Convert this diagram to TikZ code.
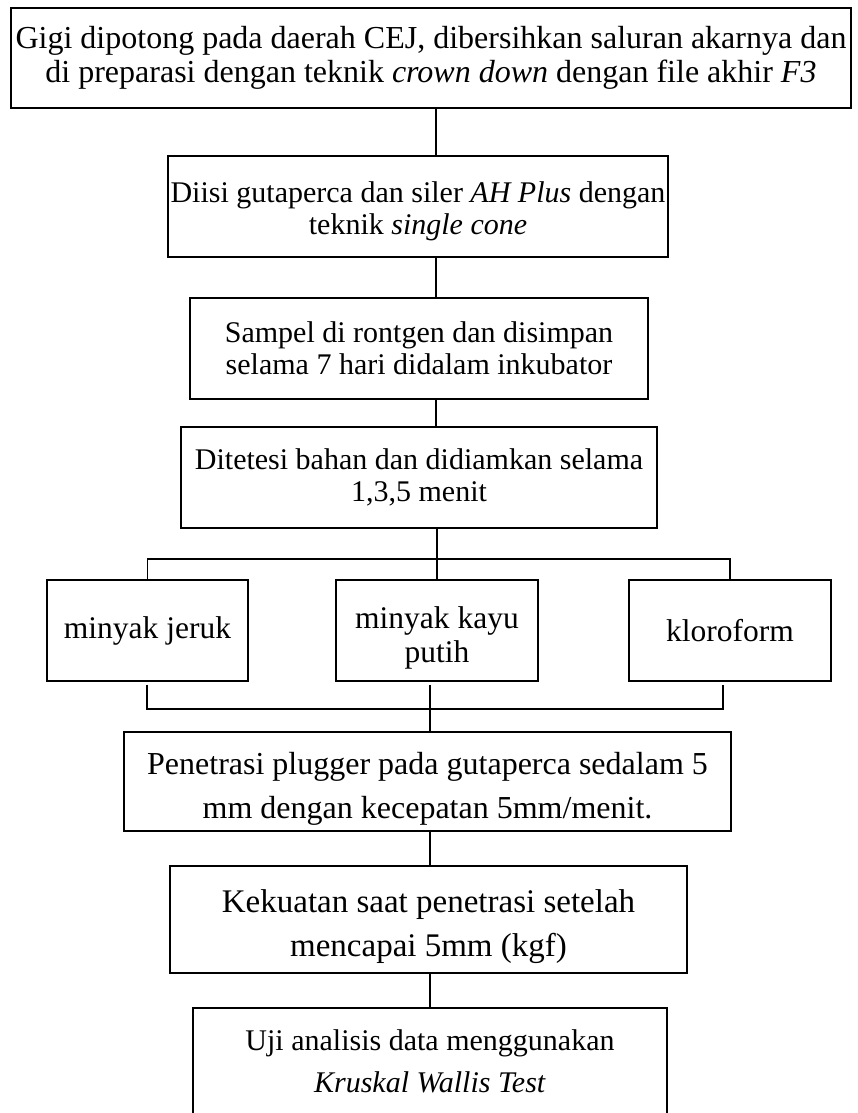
\documentclass[tikz,border=0pt]{standalone}
\usepackage{fontspec}
\setmainfont{Liberation Serif}
\usetikzlibrary{positioning}

\begin{document}
\begin{tikzpicture}[x=1pt,y=-1pt,line width=1.2pt,
  box/.style={draw,rectangle,align=center,inner sep=0pt,
    font=\fontsize{30}{32}\selectfont},
  oil/.style={box,minimum width=202pt,minimum height=101pt,
    font=\fontsize{31.5}{34}\selectfont},
  wide/.style={box,line width=1.8pt},
  bus/.style={line width=1.8pt}]
  \clip (0,0) rectangle (858,1113);
  \fill[white] (0,0) rectangle (858,1113);

  % langkah persiapan
  \node[box,font=\fontsize{32}{34}\selectfont,minimum width=840pt,minimum height=100pt] (A) at (431,58)
    {Gigi dipotong pada daerah CEJ, dibersihkan saluran akarnya dan\\
     di preparasi dengan teknik \textit{crown down} dengan file akhir \textit{F3}};
  \node[box,minimum width=500pt,minimum height=101pt] (B) at (418,206.5)
    {\rule{0pt}{30pt}Diisi gutaperca dan siler \textit{AH Plus} dengan\\teknik \textit{single cone}};
  \node[box,minimum width=458pt,minimum height=101pt] (C) at (419,348.5)
    {Sampel di rontgen dan disimpan\\selama 7 hari didalam inkubator};
  \node[box,minimum width=476pt,minimum height=101pt] (D) at (419,477.5)
    {Ditetesi bahan dan didiamkan selama\\1,3,5 menit};

  % bahan pelarut
  \node[oil,minimum width=201pt] (E) at (147.5,630.5) {minyak jeruk};
  \node[oil] (F) at (437,630.5) {\rule{0pt}{36pt}minyak kayu\\putih};
  \node[oil] (G) at (730,630.5) {kloroform};

  % pengujian
  \node[wide,font=\fontsize{32}{44}\selectfont,minimum width=607pt,minimum height=99pt] (H) at (427.5,781.5)
    {\rule{0pt}{36pt}Penetrasi plugger pada gutaperca sedalam 5\\mm dengan kecepatan 5mm/menit.};
  \node[wide,font=\fontsize{33}{44}\selectfont,minimum width=517pt,minimum height=107pt] (I) at (428.5,919.5)
    {\rule{0pt}{38pt}Kekuatan saat penetrasi setelah\\mencapai 5mm (kgf)};
  \node[box,line width=1.5pt,font=\fontsize{30}{42}\selectfont,
    minimum width=474pt,minimum height=106pt] (J) at (430,1061)
    {Uji analisis data menggunakan\\\textit{Kruskal Wallis Test}};

  \coordinate (s1) at (436,0);
  \coordinate (s3) at (430,0);
  \coordinate (jx) at (147,0);
  \coordinate (kx) at (723,0);
  \coordinate (br) at (0,559);
  \coordinate (bs) at (0,709);

  \draw (A.south -| s1) -- (B.north -| s1);
  \draw (B.south -| s1) -- (C.north -| s1);
  \draw (C.south -| s1) -- (D.north -| s1);
  \draw (D.south -| F.north) -- (F.north);
  \draw (E.north) -- (E.north |- br) -- (G.north |- br) -- (G.north);
  \draw[bus] ([yshift=-3pt]E.south -| jx) -- (jx |- bs) -- (kx |- bs) -- ([yshift=-3pt]G.south -| kx);
  \draw[bus] ([yshift=-3pt]F.south -| s3) -- (H.north -| s3);
  \draw[bus] (H.south -| s3) -- (I.north -| s3);
  \draw[bus] (I.south -| s3) -- (J.north -| s3);
\end{tikzpicture}
\end{document}
